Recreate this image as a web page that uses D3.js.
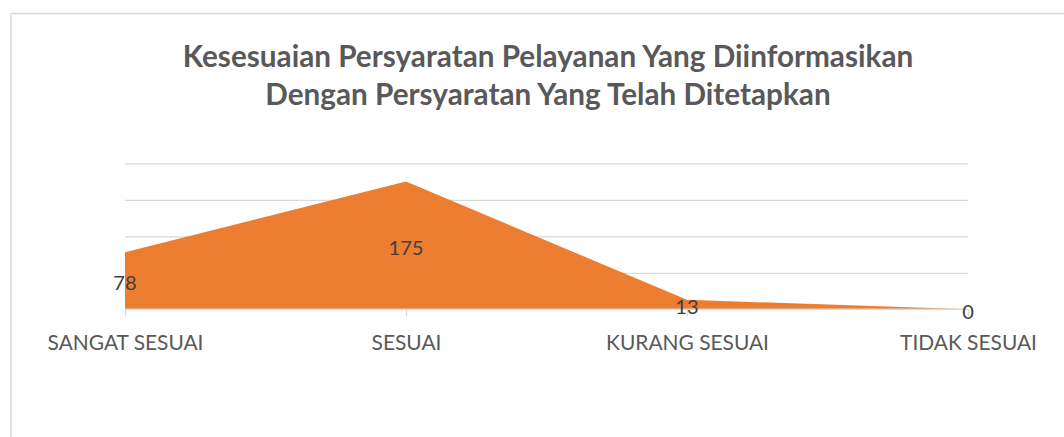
<!DOCTYPE html>
<html>
<head>
<meta charset="utf-8">
<script src="https://cdn.jsdelivr.net/npm/d3@7"></script>
<style>
  html, body { margin: 0; padding: 0; background: #fff; }
  svg { display: block; }
</style>
</head>
<body>
<svg id="chart" width="1064" height="437"></svg>
<script>
const titleLines = ["Kesesuaian Persyaratan Pelayanan Yang Diinformasikan", "Dengan Persyaratan Yang Telah Ditetapkan"];
const categories = ["SANGAT SESUAI", "SESUAI", "KURANG SESUAI", "TIDAK SESUAI"];
const values = [78, 175, 13, 0];
const yTicks = [0, 50, 100, 150, 200];

const svg = d3.select("#chart");
const W = 1064, H = 437;
const plot = { left: 125, right: 968, top: 163.3, bottom: 309.3 };

// chart border
svg.append("rect").attr("x", 11).attr("y", 13.5).attr("width", W + 20).attr("height", H + 20)
  .attr("fill", "#fff").attr("stroke", "#d9d9d9").attr("stroke-width", 1.5);

const x = d3.scalePoint().domain(categories).range([plot.left, plot.right]).padding(0);
const y = d3.scaleLinear().domain([0, 200]).range([plot.bottom, plot.top]);

// gridlines
const gridAxis = d3.axisLeft(y).tickValues(yTicks.slice(1)).tickSize(-(plot.right - plot.left)).tickFormat("");
const gg = svg.append("g").attr("transform", `translate(${plot.left},0)`).call(gridAxis);
gg.select(".domain").remove();
gg.selectAll("line").attr("stroke", "#d9d9d9").attr("stroke-width", 1.3);

// area
const area = d3.area()
  .x((d, i) => x(categories[i]))
  .y0(y(0))
  .y1(d => y(d));
svg.append("path").datum(values).attr("d", area).attr("fill", "#ED7D31");

// x axis
const xAxis = d3.axisBottom(x).tickSize(7).tickSizeOuter(0).tickPadding(12);
const xg = svg.append("g").attr("transform", `translate(0,${y(0)})`).call(xAxis);
xg.select(".domain").attr("stroke", "#d9d9d9").attr("stroke-width", 1.5)
  .attr("d", `M${plot.left},0H${plot.right}`);
xg.selectAll(".tick line").attr("stroke", "#d9d9d9").attr("stroke-width", 1.3);
xg.selectAll(".tick text")
  .attr("fill", "#595959")
  .style("font-family", "Lato, 'Open Sans', sans-serif")
  .style("font-size", "18px");

// fit category label font size to reference width
(function fitCat() {
  const t = xg.selectAll(".tick text").filter(d => d === "SANGAT SESUAI").node();
  const w = t.getComputedTextLength();
  const fs = 18 * 156 / w;
  xg.selectAll(".tick text").style("font-size", fs + "px").attr("dy", null).attr("y", 0)
    .attr("transform", `translate(0,${341 - y(0)})`).attr("dominant-baseline", "central");
})();

// data labels
const labels = svg.append("g").selectAll("text").data(values).join("text")
  .attr("x", (d, i) => x(categories[i]))
  .attr("y", d => y(d / 2) + 1.5)
  .attr("text-anchor", "middle")
  .attr("dominant-baseline", "central")
  .attr("fill", "#404040")
  .style("font-family", "Lato, 'Open Sans', sans-serif")
  .style("font-size", "20px")
  .text(d => d);
(function fitLab() {
  const n = labels.filter(d => d === 175).node();
  const w = n.getComputedTextLength();
  labels.style("font-size", (20 * 35 / w) + "px");
})();

// title
const title = svg.append("g").selectAll("text").data(titleLines).join("text")
  .attr("x", 548)
  .attr("y", (d, i) => 55 + i * 38)
  .attr("text-anchor", "middle")
  .attr("dominant-baseline", "central")
  .attr("fill", "#595959")
  .style("font-family", "Lato, 'Open Sans', sans-serif")
  .style("font-weight", "bold")
  .style("font-size", "24px")
  .text(d => d);
(function fitTitle() {
  const n = title.nodes()[0];
  const w = n.getComputedTextLength();
  title.style("font-size", (24 * 731 / w) + "px");
})();
</script>
</body>
</html>
